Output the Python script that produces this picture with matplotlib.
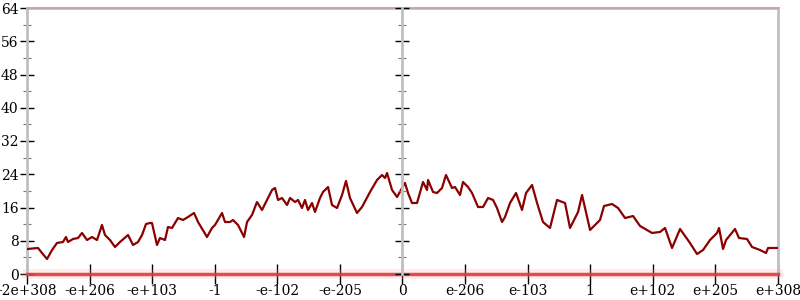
import matplotlib
matplotlib.use("Agg")
import matplotlib.pyplot as plt
from matplotlib.ticker import MultipleLocator

plt.rcParams["font.family"] = ["DejaVu Serif"]

# x positions in tick units (0..120, one tick every 10), y = count
trace_x = [0.0, 1.76, 2.40, 3.20, 4.00, 4.79, 5.75, 6.23, 6.55, 7.35, 8.15, 8.79, 9.59,
           10.39, 11.19, 11.98, 12.46, 13.26, 14.06, 14.86, 16.14, 16.94, 17.74, 18.38,
           19.02, 19.65, 19.97, 20.77, 21.25, 22.05, 22.53, 23.17, 24.13, 24.93, 25.73,
           26.69, 27.33, 28.76, 29.56, 30.04, 31.16, 31.64, 32.44, 32.92, 33.72, 34.68,
           35.16, 35.95, 36.75, 37.55, 38.35, 39.15, 39.63, 40.11, 40.75, 41.55, 42.03,
           42.83, 43.31, 43.94, 44.42, 44.90, 45.54, 46.02, 46.82, 47.30, 48.10, 48.74,
           49.54, 50.34, 50.97, 51.61, 52.73, 53.53, 54.81, 55.93, 56.73, 57.21, 57.53,
           58.33, 59.13, 59.93, 60.40, 60.88, 61.52, 62.32, 63.28, 63.92, 64.08, 64.88,
           65.52, 66.31, 66.95, 67.91, 68.39, 69.19, 69.67, 70.47, 71.11, 72.07, 72.87,
           73.67, 74.47, 75.10, 75.90, 76.38, 77.18, 78.14, 79.10, 79.74, 80.70, 81.50,
           82.45, 83.57, 84.69, 85.97, 86.77, 88.05, 88.69, 89.97, 91.56, 92.20, 93.48,
           94.44, 95.56, 96.84, 97.96, 99.87, 101.15, 101.95, 103.07, 104.35, 105.94,
           107.06, 108.02, 109.14, 110.26, 110.58, 111.22, 111.70, 113.13, 113.77,
           115.05, 115.85, 117.13, 118.09, 118.41, 120.0]
trace_y = [6.0, 6.26, 5.05, 3.61, 5.77, 7.46, 7.70, 8.90, 7.70, 8.42, 8.66, 9.87, 8.18,
           8.90, 8.18, 11.79, 9.38, 8.18, 6.50, 7.70, 9.38, 6.98, 7.70, 9.38,
           12.03, 12.27, 12.27, 6.98, 8.66, 8.18, 11.31, 11.07, 13.47, 12.99, 13.72,
           14.68, 12.51, 8.90, 11.07, 11.79, 14.68, 12.51, 12.51, 12.99, 11.79, 8.90,
           12.51, 14.20, 17.32, 15.40, 17.81, 20.21, 20.69, 17.81, 18.29, 16.60, 18.29,
           17.32, 17.81, 15.88, 17.81, 15.40, 17.08, 14.92, 18.29, 19.73, 20.93, 16.60,
           15.88, 19.01, 22.38, 18.29, 14.68, 16.12, 19.73, 22.62, 23.82, 23.10, 24.30,
           20.21, 18.53, 20.69, 21.90, 19.49, 17.08, 17.08, 22.14, 20.21, 22.62, 19.73,
           19.49, 20.69, 23.82, 20.69, 20.93, 19.01, 22.14, 20.93, 19.49, 16.12, 16.12,
           18.29, 17.81, 15.88, 12.51, 13.72, 17.08, 19.49, 15.40, 19.49, 21.42, 17.08,
           12.51, 11.07, 17.81, 17.08, 11.07, 14.92, 19.01, 10.59, 12.99, 16.36, 16.84,
           15.88, 13.47, 13.95, 11.55, 9.87, 10.11, 11.07, 6.26, 10.83, 7.46,
           4.81, 5.77, 8.18, 9.87, 11.07, 6.02, 8.18, 10.83, 8.66,
           8.42, 6.50, 5.77, 5.05, 6.26, 6.26]

tick_pos = [0, 10, 20, 30, 40, 50, 60, 70, 80, 90, 100, 110, 120]
tick_labels = ["-2e+308", "-e+206", "-e+103", "-1", "-e-102", "-e-205", "0",
               "e-206", "e-103", "1", "e+102", "e+205", "e+308"]
y_max = 64
centre = 60

GREY = "#c0c0c0"

fig = plt.figure(figsize=(8, 3), dpi=100)
ax = fig.add_axes([27 / 800, 26 / 300, 751 / 800, 266 / 300])
ax.set_xlim(0, 120)
ax.set_ylim(0, y_max)

for side in ("left", "right", "top"):
    ax.spines[side].set_color(GREY)
    ax.spines[side].set_linewidth(2)
ax.spines["bottom"].set_visible(False)

ax.yaxis.set_major_locator(MultipleLocator(8))
ax.yaxis.set_minor_locator(MultipleLocator(4))
ax.set_xticks(tick_pos)
ax.set_xticklabels(tick_labels)
ax.tick_params(axis="y", which="major", direction="inout", length=10, width=1,
               color="black", right=True, labelsize=10, pad=1)
ax.tick_params(axis="y", which="minor", direction="inout", length=6, width=0.8,
               color="#777777", right=True)
ax.tick_params(axis="x", direction="inout", length=14, width=1, color="black",
               labelsize=10, pad=0)

# middle axis with its own ticks
ax2 = ax.twinx()
ax2.set_ylim(0, y_max)
ax2.spines["right"].set_position(("data", centre))
ax2.spines["right"].set_color(GREY)
ax2.spines["right"].set_linewidth(2)
for side in ("left", "top", "bottom"):
    ax2.spines[side].set_visible(False)
ax2.yaxis.set_major_locator(MultipleLocator(8))
ax2.yaxis.set_minor_locator(MultipleLocator(4))
ax2.tick_params(axis="y", which="major", direction="inout", length=10, width=1,
                color="black", labelright=False)
ax2.tick_params(axis="y", which="minor", direction="inout", length=6, width=0.8,
                color="#777777")

ax.axhline(0, color="#e03a3a", lw=2.5, alpha=0.9, zorder=3, clip_on=False)
ax.axhline(0, color="#f4a0a0", lw=7, alpha=0.2, zorder=2, clip_on=False)
ax.axhline(y_max, color="#e8403f", lw=1.5, alpha=0.2, zorder=3, clip_on=False)

ax.plot(trace_x, trace_y, color="#8b0000", lw=1.6, zorder=4)

fig.savefig("out.png", dpi=100)
